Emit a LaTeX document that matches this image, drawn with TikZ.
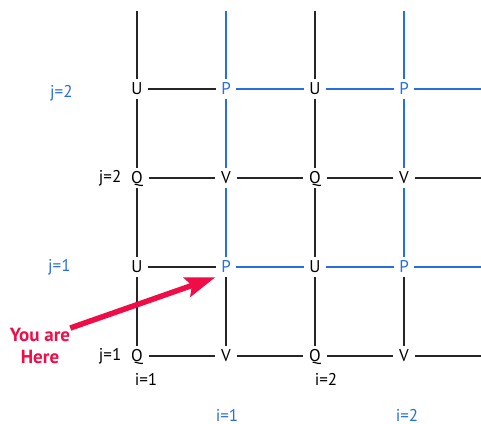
\documentclass[tikz,border=0pt]{standalone}
\usepackage{fontspec}
\setmainfont{PT Sans}
\usepackage{tikz}
\usetikzlibrary{positioning,arrows.meta}
\definecolor{gridblue}{RGB}{40,110,225}
\definecolor{herered}{RGB}{240,12,70}
\tikzset{
  pt/.style={inner xsep=5.5pt,inner ysep=3.5pt,text height=12pt,text depth=1pt,font=\fontsize{17pt}{20pt}\selectfont,on grid},
  ptblue/.style={pt,text=gridblue},
  lbl/.style={inner sep=0pt,font=\fontsize{17pt}{20pt}\selectfont},
  lblblue/.style={lbl,text=gridblue},
  blk/.style={line width=1.8pt,draw=black!85},
  blu/.style={line width=1.8pt,draw=gridblue},
  herearrow/.style={-{Stealth[length=30pt,width=20pt,inset=5pt]},line width=5.5pt,draw=herered},
}
\begin{document}
\begin{tikzpicture}[x=1pt,y=1pt,node distance=89pt and 89pt]
  \useasboundingbox (0,0) rectangle (481,-423);
  % row j=2 (blue) and j=2 (black)
  \node[pt] (u12) at (137,-89) {U};
  \node[ptblue,right=of u12] (p12) {P};
  \node[pt,right=of p12] (u22) {U};
  \node[ptblue,right=of u22] (p22) {P};
  \node[pt,below=of u12] (q12) {Q};
  \node[pt,below=of p12] (v12) {V};
  \node[pt,below=of u22] (q22) {Q};
  \node[pt,below=of p22] (v22) {V};
  % row j=1 (blue) and j=1 (black)
  \node[pt,below=of q12] (u11) {U};
  \node[ptblue,below=of v12] (p11) {P};
  \node[pt,below=of q22] (u21) {U};
  \node[ptblue,below=of v22] (p21) {P};
  \node[pt,below=of u11] (q11) {Q};
  \node[pt,below=of p11] (v11) {V};
  \node[pt,below=of u21] (q21) {Q};
  \node[pt,below=of p21] (v21) {V};
  % free ends
  \foreach \n in {u12,p12,u22,p22} \coordinate (top\n) at (\n |- 0,-11);
  \foreach \n in {p22,v22,p21,v21} \coordinate (end\n) at (481,0 |- \n);
  % labels
  \node[lblblue,left=53pt of u12,yshift=-4pt] (j2b) {j=2};
  \node[lbl,left=4pt of q12] (j2k) {j=2};
  \node[lblblue,left=55pt of u11] (j1b) {j=1};
  \node[lbl,left=4pt of q11] (j1k) {j=1};
  \node[lbl,below=7pt of q11,xshift=9pt] (i1k) {i=1};
  \node[lbl,below=7pt of q21,xshift=11pt] (i2k) {i=2};
  \node[lblblue,below=43pt of v11,xshift=1pt] (i1b) {i=1};
  \node[lblblue,below=43pt of v21,xshift=3pt] (i2b) {i=2};
  \node[lbl,text=herered,font=\fontsize{19pt}{22pt}\selectfont\bfseries,align=center] (here) at (40,-346) {You are\\Here};
  % black lines
  \draw[blk] (topu12) -- (u12) -- (q12) -- (u11) -- (q11);
  \draw[blk] (topu22) -- (u22) -- (q22) -- (u21) -- (q21);
  \draw[blk] (p11) -- (v11);
  \draw[blk] (p21) -- (v21);
  \draw[blk] (u12) -- (p12);
  \draw[blk] (u11) -- (p11);
  \draw[blk] (q12) -- (v12) -- (q22) -- (v22) -- (endv22);
  \draw[blk] (q11) -- (v11) -- (q21) -- (v21) -- (endv21);
  % blue lines
  \draw[blu] (topp12) -- (p12) -- (v12) -- (p11);
  \draw[blu] (topp22) -- (p22) -- (v22) -- (p21);
  \draw[blu] (p12) -- (u22) -- (p22) -- (endp22);
  \draw[blu] (p11) -- (u21) -- (p21) -- (endp21);
  % you are here
  \draw[herearrow] (here.north east) -- (p11.south west);
\end{tikzpicture}
\end{document}
